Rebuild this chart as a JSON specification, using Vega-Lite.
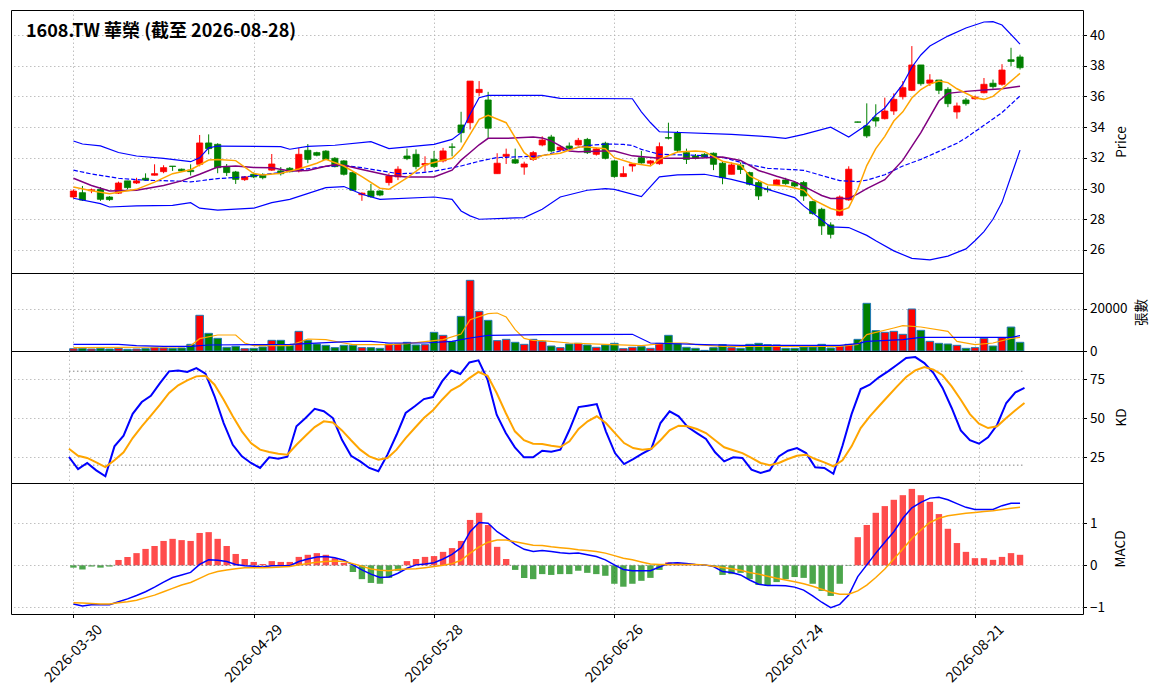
{
  "$schema": "https://vega.github.io/schema/vega-lite/v6.json",
  "padding": {"left": 10, "top": 9, "right": 0, "bottom": 0},
  "spacing": 0,
  "bounds": "flush",
  "config": {
    "font": "Noto Sans CJK TC",
    "view": {"stroke": "#000000", "strokeWidth": 1},
    "axis": {
      "gridColor": "#b0b0b0", "gridDash": [1.5, 2.5], "gridWidth": 0.8,
      "labelFontSize": 13.5, "labelColor": "#000000", "labelFont": "Noto Sans CJK TC", "labelOverlap": false,
      "tickColor": "#000000", "tickSize": 3.5, "labelPadding": 3, "domain": false,
      "titleFontSize": 13.5, "titleFontWeight": "normal", "titleColor": "#000000", "titleFont": "Noto Sans CJK TC"
    },
    "title": {"font": "Noto Sans CJK TC", "color": "#000000"}
  },
  "datasets": {
    "k": [
      {"i":0,"o":29.45,"h":29.95,"l":29.35,"c":29.84,"v":1100},
      {"i":1,"o":29.73,"h":30.17,"l":29.19,"c":29.25,"v":1270},
      {"i":2,"o":29.86,"h":30.0,"l":29.7,"c":29.92,"v":950},
      {"i":3,"o":29.95,"h":30.1,"l":29.2,"c":29.3,"v":1270},
      {"i":4,"o":29.45,"h":29.5,"l":29.2,"c":29.28,"v":950},
      {"i":5,"o":29.7,"h":30.45,"l":29.65,"c":30.36,"v":1270},
      {"i":6,"o":30.5,"h":30.5,"l":29.95,"c":30.06,"v":800},
      {"i":7,"o":30.36,"h":30.7,"l":30.3,"c":30.5,"v":950},
      {"i":8,"o":30.67,"h":30.99,"l":30.5,"c":30.55,"v":1100},
      {"i":9,"o":30.87,"h":31.58,"l":30.85,"c":30.97,"v":1590},
      {"i":10,"o":31.1,"h":31.52,"l":31.0,"c":31.36,"v":1430},
      {"i":11,"o":31.46,"h":31.47,"l":31.15,"c":31.44,"v":1270},
      {"i":12,"o":31.26,"h":31.3,"l":31.1,"c":31.15,"v":1430},
      {"i":13,"o":31.2,"h":31.58,"l":30.85,"c":31.1,"v":3170},
      {"i":14,"o":31.58,"h":33.49,"l":31.45,"c":32.97,"v":17000},
      {"i":15,"o":32.97,"h":33.53,"l":32.23,"c":32.6,"v":8400},
      {"i":16,"o":32.88,"h":32.95,"l":31.0,"c":31.36,"v":6030},
      {"i":17,"o":31.43,"h":31.6,"l":30.82,"c":31.04,"v":1750},
      {"i":18,"o":31.08,"h":31.15,"l":30.3,"c":30.6,"v":2220},
      {"i":19,"o":30.58,"h":30.8,"l":30.5,"c":30.76,"v":1100},
      {"i":20,"o":30.93,"h":31.05,"l":30.68,"c":30.76,"v":1270},
      {"i":21,"o":30.87,"h":31.0,"l":30.6,"c":30.71,"v":1900},
      {"i":22,"o":31.2,"h":32.25,"l":31.15,"c":31.6,"v":5080},
      {"i":23,"o":31.15,"h":31.4,"l":30.85,"c":30.97,"v":5080},
      {"i":24,"o":31.32,"h":31.4,"l":31.05,"c":31.1,"v":2540},
      {"i":25,"o":31.15,"h":32.65,"l":31.05,"c":32.23,"v":9360},
      {"i":26,"o":32.49,"h":32.9,"l":31.65,"c":31.9,"v":5080},
      {"i":27,"o":32.34,"h":32.4,"l":32.1,"c":32.17,"v":3330},
      {"i":28,"o":32.44,"h":32.5,"l":31.85,"c":31.9,"v":2700},
      {"i":29,"o":31.97,"h":32.05,"l":31.38,"c":31.43,"v":1590},
      {"i":30,"o":31.8,"h":31.85,"l":30.85,"c":30.93,"v":2700},
      {"i":31,"o":31.04,"h":31.1,"l":29.85,"c":29.89,"v":2700},
      {"i":32,"o":29.6,"h":29.75,"l":29.2,"c":29.7,"v":1590},
      {"i":33,"o":29.84,"h":30.3,"l":29.4,"c":29.47,"v":1590},
      {"i":34,"o":29.84,"h":29.9,"l":29.5,"c":29.58,"v":1270},
      {"i":35,"o":30.39,"h":31.0,"l":30.2,"c":30.82,"v":3330},
      {"i":36,"o":30.76,"h":31.45,"l":30.55,"c":31.26,"v":3330},
      {"i":37,"o":32.12,"h":32.6,"l":31.85,"c":31.95,"v":4130},
      {"i":38,"o":32.23,"h":32.55,"l":31.25,"c":31.43,"v":2860},
      {"i":39,"o":31.54,"h":32.1,"l":31.1,"c":31.63,"v":3000},
      {"i":40,"o":31.91,"h":32.45,"l":31.35,"c":31.43,"v":8890},
      {"i":41,"o":31.8,"h":32.65,"l":31.7,"c":32.45,"v":7460},
      {"i":42,"o":32.71,"h":32.95,"l":32.1,"c":32.69,"v":4600},
      {"i":43,"o":34.14,"h":35.0,"l":33.0,"c":33.64,"v":16500},
      {"i":44,"o":34.29,"h":37.0,"l":33.85,"c":37.0,"v":33650},
      {"i":45,"o":36.25,"h":37.0,"l":36.03,"c":36.46,"v":18900},
      {"i":46,"o":35.77,"h":36.3,"l":33.3,"c":33.93,"v":14600},
      {"i":47,"o":30.97,"h":32.3,"l":30.97,"c":31.65,"v":4920},
      {"i":48,"o":32.1,"h":32.6,"l":31.6,"c":32.23,"v":5550},
      {"i":49,"o":31.88,"h":32.6,"l":31.6,"c":31.66,"v":4130},
      {"i":50,"o":31.4,"h":31.75,"l":30.9,"c":31.6,"v":3170},
      {"i":51,"o":31.9,"h":32.45,"l":31.8,"c":32.34,"v":5550},
      {"i":52,"o":32.84,"h":33.4,"l":32.75,"c":33.16,"v":4600},
      {"i":53,"o":33.36,"h":33.5,"l":32.35,"c":32.45,"v":2380},
      {"i":54,"o":32.51,"h":32.8,"l":32.45,"c":32.7,"v":1590},
      {"i":55,"o":32.77,"h":33.0,"l":32.5,"c":32.62,"v":3330},
      {"i":56,"o":32.84,"h":33.3,"l":32.8,"c":33.14,"v":3650},
      {"i":57,"o":33.2,"h":33.3,"l":32.25,"c":32.34,"v":2860},
      {"i":58,"o":32.23,"h":32.65,"l":32.15,"c":32.58,"v":1750},
      {"i":59,"o":32.95,"h":33.05,"l":31.9,"c":31.97,"v":2860},
      {"i":60,"o":31.8,"h":31.85,"l":30.7,"c":30.78,"v":3650},
      {"i":61,"o":30.78,"h":31.45,"l":30.75,"c":30.97,"v":1100},
      {"i":62,"o":31.47,"h":31.65,"l":31.1,"c":31.6,"v":1750},
      {"i":63,"o":32.01,"h":32.45,"l":31.62,"c":31.67,"v":2060},
      {"i":64,"o":31.65,"h":31.85,"l":31.5,"c":31.8,"v":1270},
      {"i":65,"o":31.62,"h":33.0,"l":31.55,"c":32.73,"v":3650},
      {"i":66,"o":33.32,"h":34.29,"l":33.2,"c":33.28,"v":7460},
      {"i":67,"o":33.62,"h":33.75,"l":32.35,"c":32.49,"v":3490},
      {"i":68,"o":32.34,"h":32.6,"l":31.6,"c":31.9,"v":1750},
      {"i":69,"o":32.12,"h":32.25,"l":31.9,"c":31.97,"v":1270},
      {"i":70,"o":32.23,"h":32.3,"l":32.0,"c":32.06,"v":300},
      {"i":71,"o":32.3,"h":32.35,"l":31.2,"c":31.58,"v":1590},
      {"i":72,"o":31.65,"h":31.8,"l":30.28,"c":30.71,"v":3000},
      {"i":73,"o":30.93,"h":31.7,"l":30.93,"c":31.54,"v":1590},
      {"i":74,"o":31.52,"h":31.7,"l":30.95,"c":31.24,"v":1270},
      {"i":75,"o":31.04,"h":31.1,"l":30.2,"c":30.28,"v":3170},
      {"i":76,"o":30.39,"h":30.5,"l":29.26,"c":29.52,"v":3650},
      {"i":77,"o":29.97,"h":30.15,"l":29.75,"c":29.93,"v":3000},
      {"i":78,"o":30.23,"h":30.6,"l":30.2,"c":30.56,"v":2860},
      {"i":79,"o":30.56,"h":30.7,"l":30.25,"c":30.32,"v":1270},
      {"i":80,"o":30.39,"h":30.45,"l":30.1,"c":30.17,"v":1270},
      {"i":81,"o":30.39,"h":30.5,"l":29.2,"c":29.52,"v":1900},
      {"i":82,"o":29.15,"h":29.2,"l":28.3,"c":28.37,"v":1900},
      {"i":83,"o":28.65,"h":28.75,"l":26.98,"c":27.57,"v":3170},
      {"i":84,"o":27.63,"h":27.8,"l":26.75,"c":27.02,"v":1430},
      {"i":85,"o":28.26,"h":29.55,"l":28.2,"c":29.45,"v":2380},
      {"i":86,"o":29.26,"h":31.45,"l":29.2,"c":31.26,"v":3170},
      {"i":87,"o":34.34,"h":34.36,"l":34.3,"c":34.32,"v":5550},
      {"i":88,"o":34.08,"h":35.55,"l":33.3,"c":33.43,"v":22700},
      {"i":89,"o":34.62,"h":35.49,"l":34.03,"c":34.4,"v":9680},
      {"i":90,"o":34.55,"h":35.92,"l":34.5,"c":35.05,"v":8890},
      {"i":91,"o":35.05,"h":36.2,"l":34.8,"c":35.81,"v":9360},
      {"i":92,"o":35.98,"h":37.0,"l":35.8,"c":36.57,"v":7940},
      {"i":93,"o":36.4,"h":39.28,"l":36.35,"c":38.05,"v":20000},
      {"i":94,"o":38.05,"h":38.05,"l":36.7,"c":36.83,"v":9840},
      {"i":95,"o":36.86,"h":37.45,"l":36.68,"c":37.07,"v":4600},
      {"i":96,"o":37.07,"h":37.07,"l":36.15,"c":36.4,"v":3650},
      {"i":97,"o":36.46,"h":36.6,"l":35.3,"c":35.53,"v":3330},
      {"i":98,"o":34.99,"h":35.6,"l":34.55,"c":35.38,"v":2700},
      {"i":99,"o":35.77,"h":35.9,"l":35.4,"c":35.53,"v":1270},
      {"i":100,"o":35.85,"h":36.05,"l":35.8,"c":35.96,"v":1590},
      {"i":101,"o":36.24,"h":37.2,"l":36.2,"c":36.79,"v":6030},
      {"i":102,"o":36.86,"h":37.1,"l":36.5,"c":36.64,"v":2380},
      {"i":103,"o":36.79,"h":38.1,"l":36.7,"c":37.72,"v":6350},
      {"i":104,"o":38.39,"h":39.17,"l":37.98,"c":38.28,"v":11400},
      {"i":105,"o":38.57,"h":38.72,"l":37.75,"c":37.87,"v":4130}
    ],
    "ind": [
      {"i":0,"k":25.2,"d":30.5,"dif":-0.92,"dea":-0.89,"h":-0.056},
      {"i":1,"k":17.5,"d":26,"dif":-0.97,"dea":-0.9,"h":-0.1},
      {"i":2,"k":21.4,"d":24.6,"dif":-0.94,"dea":-0.91,"h":-0.03},
      {"i":3,"k":16.7,"d":21.8,"dif":-0.94,"dea":-0.92,"h":-0.056},
      {"i":4,"k":12.9,"d":18.8,"dif":-0.94,"dea":-0.92,"h":-0.03},
      {"i":5,"k":32,"d":23.1,"dif":-0.87,"dea":-0.89,"h":0.127},
      {"i":6,"k":38.8,"d":28.2,"dif":-0.8,"dea":-0.87,"h":0.198},
      {"i":7,"k":52.8,"d":37.3,"dif":-0.72,"dea":-0.83,"h":0.29},
      {"i":8,"k":60.3,"d":44.8,"dif":-0.63,"dea":-0.77,"h":0.39},
      {"i":9,"k":64.3,"d":51.6,"dif":-0.52,"dea":-0.71,"h":0.46},
      {"i":10,"k":72.4,"d":58.6,"dif":-0.4,"dea":-0.63,"h":0.58},
      {"i":11,"k":79.9,"d":66.1,"dif":-0.29,"dea":-0.55,"h":0.63},
      {"i":12,"k":80.5,"d":71,"dif":-0.23,"dea":-0.47,"h":0.6},
      {"i":13,"k":79.5,"d":74.2,"dif":-0.17,"dea":-0.41,"h":0.58},
      {"i":14,"k":82,"d":76.7,"dif":0.02,"dea":-0.31,"h":0.77},
      {"i":15,"k":78.4,"d":77.1,"dif":0.13,"dea":-0.21,"h":0.79},
      {"i":16,"k":64,"d":71.4,"dif":0.12,"dea":-0.15,"h":0.63},
      {"i":17,"k":46.9,"d":61.8,"dif":0.09,"dea":-0.11,"h":0.46},
      {"i":18,"k":33,"d":51.2,"dif":0.02,"dea":-0.08,"h":0.27},
      {"i":19,"k":25.6,"d":41.6,"dif":-0.01,"dea":-0.06,"h":0.15},
      {"i":20,"k":21.4,"d":34.1,"dif":-0.02,"dea":-0.056,"h":0.08},
      {"i":21,"k":18.2,"d":29.9,"dif":-0.04,"dea":-0.056,"h":0.03},
      {"i":22,"k":25,"d":28.4,"dif":-0.01,"dea":-0.05,"h":0.1},
      {"i":23,"k":24.1,"d":27.3,"dif":-0.01,"dea":-0.04,"h":0.08},
      {"i":24,"k":25.4,"d":26.7,"dif":-0.01,"dea":-0.03,"h":0.08},
      {"i":25,"k":44.8,"d":33,"dif":0.09,"dea":0.01,"h":0.2},
      {"i":26,"k":50.1,"d":38.8,"dif":0.15,"dea":0.04,"h":0.25},
      {"i":27,"k":56,"d":44.3,"dif":0.2,"dea":0.07,"h":0.29},
      {"i":28,"k":54.4,"d":48,"dif":0.21,"dea":0.09,"h":0.25},
      {"i":29,"k":50.1,"d":47.3,"dif":0.18,"dea":0.1,"h":0.17},
      {"i":30,"k":36.2,"d":42.2,"dif":0.12,"dea":0.09,"h":0.056},
      {"i":31,"k":26,"d":35.9,"dif":0.01,"dea":0.04,"h":-0.16},
      {"i":32,"k":22.4,"d":29.9,"dif":-0.11,"dea":-0.02,"h":-0.33},
      {"i":33,"k":18.2,"d":25.6,"dif":-0.21,"dea":-0.09,"h":-0.42},
      {"i":34,"k":16.1,"d":23.5,"dif":-0.29,"dea":-0.12,"h":-0.44},
      {"i":35,"k":26.7,"d":24.6,"dif":-0.28,"dea":-0.13,"h":-0.3},
      {"i":36,"k":39.4,"d":29.9,"dif":-0.19,"dea":-0.1,"h":-0.13},
      {"i":37,"k":53.3,"d":37.3,"dif":-0.07,"dea":-0.09,"h":0.1},
      {"i":38,"k":57.6,"d":43.7,"dif":0.01,"dea":-0.08,"h":0.15},
      {"i":39,"k":62.2,"d":50.1,"dif":0.03,"dea":-0.056,"h":0.2},
      {"i":40,"k":63.5,"d":55,"dif":0.06,"dea":-0.03,"h":0.22},
      {"i":41,"k":73.5,"d":61.8,"dif":0.15,"dea":0,"h":0.32},
      {"i":42,"k":80.5,"d":67.8,"dif":0.26,"dea":0.04,"h":0.41},
      {"i":43,"k":78.2,"d":71,"dif":0.42,"dea":0.12,"h":0.58},
      {"i":44,"k":85.6,"d":75.6,"dif":0.8,"dea":0.29,"h":1.08},
      {"i":45,"k":86.9,"d":79.5,"dif":1.02,"dea":0.44,"h":1.25},
      {"i":46,"k":74.6,"d":77.1,"dif":1.0,"dea":0.55,"h":0.96},
      {"i":47,"k":52.2,"d":66.1,"dif":0.8,"dea":0.6,"h":0.44},
      {"i":48,"k":40.5,"d":53.3,"dif":0.66,"dea":0.6,"h":0.15},
      {"i":49,"k":31.4,"d":41.6,"dif":0.5,"dea":0.56,"h":-0.11},
      {"i":50,"k":25,"d":35.9,"dif":0.38,"dea":0.52,"h":-0.3},
      {"i":51,"k":25,"d":33.7,"dif":0.33,"dea":0.48,"h":-0.33},
      {"i":52,"k":29.2,"d":33.5,"dif":0.35,"dea":0.47,"h":-0.21},
      {"i":53,"k":28.6,"d":32.4,"dif":0.33,"dea":0.44,"h":-0.23},
      {"i":54,"k":29.9,"d":31.6,"dif":0.3,"dea":0.42,"h":-0.21},
      {"i":55,"k":42.6,"d":35.2,"dif":0.28,"dea":0.4,"h":-0.21},
      {"i":56,"k":57.1,"d":43.1,"dif":0.29,"dea":0.37,"h":-0.13},
      {"i":57,"k":58,"d":48,"dif":0.25,"dea":0.35,"h":-0.18},
      {"i":58,"k":59,"d":51.2,"dif":0.21,"dea":0.33,"h":-0.21},
      {"i":59,"k":41.6,"d":46.9,"dif":0.13,"dea":0.29,"h":-0.25},
      {"i":60,"k":27.7,"d":40.5,"dif":0.01,"dea":0.23,"h":-0.44},
      {"i":61,"k":20.7,"d":34.1,"dif":-0.1,"dea":0.17,"h":-0.51},
      {"i":62,"k":23.9,"d":30.9,"dif":-0.13,"dea":0.13,"h":-0.44},
      {"i":63,"k":27.3,"d":29.9,"dif":-0.13,"dea":0.08,"h":-0.37},
      {"i":64,"k":30.5,"d":30.5,"dif":-0.13,"dea":0.03,"h":-0.3},
      {"i":65,"k":46.9,"d":35.9,"dif":-0.04,"dea":0.02,"h":-0.11},
      {"i":66,"k":54.4,"d":42.2,"dif":0.05,"dea":0.02,"h":0.07},
      {"i":67,"k":51.2,"d":45.2,"dif":0.06,"dea":0.02,"h":0.06},
      {"i":68,"k":44.3,"d":44.8,"dif":0.04,"dea":0.02,"h":0.01},
      {"i":69,"k":40.5,"d":43.1,"dif":0.02,"dea":0.02,"h":0.01},
      {"i":70,"k":36.7,"d":40.5,"dif":0.01,"dea":0.01,"h":-0.01},
      {"i":71,"k":28.2,"d":35.9,"dif":-0.03,"dea":-0.02,"h":-0.02},
      {"i":72,"k":22.4,"d":31.4,"dif":-0.15,"dea":-0.05,"h":-0.23},
      {"i":73,"k":25,"d":29.5,"dif":-0.17,"dea":-0.08,"h":-0.21},
      {"i":74,"k":24.6,"d":27.7,"dif":-0.23,"dea":-0.12,"h":-0.18},
      {"i":75,"k":17.1,"d":24.6,"dif":-0.35,"dea":-0.17,"h":-0.33},
      {"i":76,"k":15,"d":21.4,"dif":-0.45,"dea":-0.21,"h":-0.47},
      {"i":77,"k":16.7,"d":19.9,"dif":-0.48,"dea":-0.26,"h":-0.49},
      {"i":78,"k":25.6,"d":21.4,"dif":-0.48,"dea":-0.31,"h":-0.4},
      {"i":79,"k":29.2,"d":23.9,"dif":-0.49,"dea":-0.35,"h":-0.33},
      {"i":80,"k":30.9,"d":26,"dif":-0.52,"dea":-0.39,"h":-0.28},
      {"i":81,"k":27.7,"d":26.7,"dif":-0.59,"dea":-0.44,"h":-0.3},
      {"i":82,"k":18.6,"d":23.9,"dif":-0.73,"dea":-0.5,"h":-0.44},
      {"i":83,"k":18.2,"d":21.8,"dif":-0.88,"dea":-0.57,"h":-0.61},
      {"i":84,"k":14.5,"d":19.3,"dif":-1.01,"dea":-0.64,"h":-0.73},
      {"i":85,"k":32.4,"d":23.1,"dif":-0.93,"dea":-0.69,"h":-0.44},
      {"i":86,"k":52.6,"d":32,"dif":-0.71,"dea":-0.69,"h":-0.01},
      {"i":87,"k":68.6,"d":43.7,"dif":-0.27,"dea":-0.61,"h":0.67},
      {"i":88,"k":71.4,"d":51.2,"dif":0.01,"dea":-0.47,"h":0.96},
      {"i":89,"k":76.1,"d":57.6,"dif":0.29,"dea":-0.29,"h":1.25},
      {"i":90,"k":79.9,"d":64,"dif":0.55,"dea":-0.09,"h":1.41},
      {"i":91,"k":84.1,"d":70.3,"dif":0.8,"dea":0.15,"h":1.56},
      {"i":92,"k":88.4,"d":76.3,"dif":1.12,"dea":0.39,"h":1.67},
      {"i":93,"k":89,"d":80.5,"dif":1.37,"dea":0.64,"h":1.82},
      {"i":94,"k":85.2,"d":82.7,"dif":1.5,"dea":0.84,"h":1.67},
      {"i":95,"k":78.8,"d":81,"dif":1.6,"dea":1.02,"h":1.51},
      {"i":96,"k":69.3,"d":77.4,"dif":1.62,"dea":1.12,"h":1.22},
      {"i":97,"k":56.5,"d":70.3,"dif":1.56,"dea":1.18,"h":0.87},
      {"i":98,"k":42.2,"d":61.8,"dif":1.47,"dea":1.21,"h":0.53},
      {"i":99,"k":35.9,"d":52.6,"dif":1.38,"dea":1.24,"h":0.32},
      {"i":100,"k":33.7,"d":46.5,"dif":1.33,"dea":1.26,"h":0.17},
      {"i":101,"k":37.8,"d":43.7,"dif":1.33,"dea":1.28,"h":0.17},
      {"i":102,"k":45.8,"d":44.8,"dif":1.33,"dea":1.3,"h":0.13},
      {"i":103,"k":59.7,"d":50.1,"dif":1.42,"dea":1.33,"h":0.2},
      {"i":104,"k":66.5,"d":55,"dif":1.48,"dea":1.36,"h":0.29},
      {"i":105,"k":69.3,"d":59.7,"dif":1.48,"dea":1.38,"h":0.25}
    ],
    "ma5": [
      {"i":0,"v":30.1},{"i":2,"v":29.86},{"i":4,"v":29.67},{"i":7,"v":29.95},{"i":9,"v":30.42},
      {"i":11,"v":30.97},{"i":13,"v":31.23},{"i":15,"v":31.86},{"i":16,"v":31.9},{"i":18,"v":31.82},
      {"i":20,"v":30.98},{"i":21,"v":30.89},{"i":23,"v":31.0},{"i":25,"v":31.28},{"i":27,"v":31.65},
      {"i":28,"v":31.9},{"i":30,"v":31.47},{"i":32,"v":30.78},{"i":34,"v":30.02},{"i":35,"v":29.95},
      {"i":37,"v":30.7},{"i":39,"v":31.55},{"i":41,"v":31.85},{"i":42,"v":31.97},{"i":43,"v":32.56},
      {"i":44,"v":33.53},{"i":45,"v":34.51},{"i":46,"v":34.77},{"i":48,"v":34.29},{"i":49,"v":33.31},
      {"i":50,"v":32.34},{"i":51,"v":31.9},{"i":52,"v":32.15},{"i":54,"v":32.3},{"i":56,"v":32.71},
      {"i":57,"v":32.7},{"i":59,"v":32.6},{"i":60,"v":32.01},{"i":62,"v":31.65},{"i":64,"v":31.47},
      {"i":65,"v":31.9},{"i":67,"v":32.38},{"i":69,"v":32.45},{"i":70,"v":32.4},{"i":72,"v":31.78},
      {"i":74,"v":31.54},{"i":75,"v":30.82},{"i":77,"v":30.25},{"i":79,"v":30.17},{"i":81,"v":29.9},
      {"i":82,"v":29.3},{"i":84,"v":28.7},{"i":85,"v":28.54},{"i":86,"v":28.76},{"i":87,"v":29.95},
      {"i":88,"v":31.5},{"i":89,"v":32.6},{"i":90,"v":33.4},{"i":91,"v":34.4},{"i":92,"v":35.0},
      {"i":93,"v":35.9},{"i":94,"v":36.45},{"i":95,"v":36.8},{"i":96,"v":37.0},{"i":97,"v":36.9},
      {"i":98,"v":36.5},{"i":100,"v":35.92},{"i":101,"v":35.81},{"i":102,"v":36.0},{"i":103,"v":36.5},
      {"i":104,"v":37.0},{"i":105,"v":37.5}
    ],
    "ma10": [
      {"i":0,"v":30.67},{"i":2,"v":30.2},{"i":4,"v":29.84},{"i":7,"v":29.89},{"i":10,"v":30.2},
      {"i":12,"v":30.5},{"i":14,"v":30.93},{"i":16,"v":31.4},{"i":18,"v":31.47},{"i":20,"v":31.37},
      {"i":22,"v":31.36},{"i":24,"v":31.15},{"i":26,"v":31.17},{"i":28,"v":31.45},{"i":29,"v":31.55},
      {"i":30,"v":31.52},{"i":32,"v":31.24},{"i":35,"v":30.85},{"i":37,"v":30.76},{"i":40,"v":30.76},
      {"i":42,"v":31.2},{"i":43,"v":31.85},{"i":44,"v":32.35},{"i":45,"v":32.85},{"i":46,"v":33.27},
      {"i":48,"v":33.27},{"i":51,"v":33.36},{"i":52,"v":33.3},{"i":53,"v":33.1},{"i":55,"v":32.45},
      {"i":56,"v":32.4},{"i":59,"v":32.45},{"i":60,"v":32.44},{"i":62,"v":32.13},{"i":65,"v":31.97},
      {"i":69,"v":31.97},{"i":72,"v":32.06},{"i":74,"v":31.83},{"i":76,"v":31.18},{"i":78,"v":30.8},
      {"i":80,"v":30.45},{"i":82,"v":29.85},{"i":83,"v":29.55},{"i":84,"v":29.35},{"i":86,"v":29.35},
      {"i":87,"v":29.65},{"i":88,"v":30.0},{"i":90,"v":30.58},{"i":92,"v":31.85},{"i":94,"v":33.64},
      {"i":96,"v":35.7},{"i":97,"v":36.2},{"i":99,"v":36.33},{"i":101,"v":36.42},{"i":103,"v":36.5},
      {"i":105,"v":36.66}
    ],
    "ma20": [
      {"i":0,"v":31.2},{"i":2,"v":30.95},{"i":5,"v":30.67},{"i":8,"v":30.54},{"i":11,"v":30.5},
      {"i":13,"v":30.43},{"i":16,"v":30.65},{"i":19,"v":30.76},{"i":22,"v":30.97},{"i":25,"v":31.2},
      {"i":28,"v":31.45},{"i":30,"v":31.5},{"i":32,"v":31.36},{"i":36,"v":30.97},{"i":38,"v":31.0},
      {"i":40,"v":31.13},{"i":43,"v":31.47},{"i":45,"v":31.78},{"i":47,"v":32.02},{"i":49,"v":32.06},
      {"i":52,"v":32.13},{"i":54,"v":32.45},{"i":57,"v":32.8},{"i":59,"v":32.9},{"i":61,"v":32.88},
      {"i":62,"v":32.8},{"i":63,"v":32.55},{"i":65,"v":32.23},{"i":69,"v":32.17},{"i":72,"v":32.03},
      {"i":75,"v":31.55},{"i":77,"v":31.32},{"i":81,"v":31.19},{"i":83,"v":30.85},{"i":85,"v":30.52},
      {"i":87,"v":30.45},{"i":88,"v":30.55},{"i":90,"v":30.9},{"i":92,"v":31.47},{"i":94,"v":31.9},
      {"i":96,"v":32.42},{"i":98,"v":32.95},{"i":99,"v":33.3},{"i":101,"v":34.12},{"i":103,"v":34.95},
      {"i":105,"v":36.03}
    ],
    "bbu": [
      {"i":0,"v":33.1},{"i":1,"v":32.9},{"i":3,"v":32.78},{"i":5,"v":32.35},{"i":7,"v":32.12},
      {"i":10,"v":31.97},{"i":13,"v":31.75},{"i":14,"v":32.0},{"i":15,"v":32.65},{"i":16,"v":32.77},
      {"i":23,"v":32.73},{"i":24,"v":32.56},{"i":26,"v":32.75},{"i":29,"v":32.82},{"i":33,"v":33.05},
      {"i":35,"v":32.6},{"i":40,"v":32.88},{"i":42,"v":33.2},{"i":43,"v":33.64},{"i":44,"v":34.84},
      {"i":45,"v":35.92},{"i":46,"v":36.07},{"i":52,"v":36.07},{"i":54,"v":35.88},{"i":62,"v":35.85},
      {"i":63,"v":35.0},{"i":64,"v":34.3},{"i":65,"v":33.7},{"i":73,"v":33.53},{"i":77,"v":33.38},
      {"i":79,"v":33.27},{"i":81,"v":33.53},{"i":84,"v":34.0},{"i":86,"v":33.36},{"i":88,"v":34.15},
      {"i":89,"v":34.8},{"i":90,"v":35.25},{"i":92,"v":36.8},{"i":93,"v":37.9},{"i":94,"v":38.7},
      {"i":95,"v":39.28},{"i":97,"v":39.93},{"i":99,"v":40.46},{"i":101,"v":40.85},{"i":102,"v":40.87},
      {"i":103,"v":40.65},{"i":105,"v":39.41}
    ],
    "bbl": [
      {"i":0,"v":29.37},{"i":3,"v":29.02},{"i":4,"v":28.8},{"i":7,"v":28.87},{"i":11,"v":28.91},
      {"i":13,"v":29.08},{"i":14,"v":28.72},{"i":16,"v":28.59},{"i":20,"v":28.72},{"i":22,"v":29.08},
      {"i":24,"v":29.3},{"i":28,"v":30.06},{"i":30,"v":30.13},{"i":32,"v":29.63},{"i":34,"v":29.3},
      {"i":40,"v":29.45},{"i":42,"v":29.3},{"i":43,"v":28.54},{"i":44,"v":28.22},{"i":45,"v":28.0},
      {"i":50,"v":28.11},{"i":52,"v":28.65},{"i":54,"v":29.45},{"i":57,"v":29.89},{"i":59,"v":30.0},
      {"i":60,"v":29.95},{"i":63,"v":29.47},{"i":65,"v":30.76},{"i":67,"v":30.89},{"i":70,"v":30.93},
      {"i":73,"v":30.6},{"i":75,"v":30.3},{"i":80,"v":29.41},{"i":81,"v":28.87},{"i":84,"v":27.5},
      {"i":86,"v":27.46},{"i":88,"v":26.95},{"i":89,"v":26.6},{"i":91,"v":25.94},{"i":93,"v":25.45},
      {"i":95,"v":25.35},{"i":97,"v":25.6},{"i":99,"v":26.07},{"i":100,"v":26.6},{"i":101,"v":27.2},
      {"i":102,"v":28.0},{"i":103,"v":29.1},{"i":104,"v":30.8},{"i":105,"v":32.5}
    ],
    "vma5": [
      {"i":0,"v":1590},{"i":12,"v":1900},{"i":13,"v":2540},{"i":14,"v":5870},{"i":16,"v":7620},
      {"i":18,"v":7620},{"i":19,"v":3800},{"i":20,"v":2540},{"i":24,"v":2540},{"i":26,"v":5710},
      {"i":28,"v":5400},{"i":30,"v":3800},{"i":31,"v":3000},{"i":35,"v":3000},{"i":37,"v":3490},
      {"i":39,"v":4440},{"i":41,"v":5400},{"i":43,"v":8090},{"i":44,"v":14900},{"i":46,"v":17800},
      {"i":47,"v":18100},{"i":48,"v":16200},{"i":49,"v":10150},{"i":50,"v":6000},{"i":51,"v":5000},
      {"i":52,"v":4900},{"i":55,"v":3800},{"i":59,"v":3170},{"i":63,"v":2540},{"i":66,"v":3800},
      {"i":68,"v":3800},{"i":69,"v":3000},{"i":72,"v":2220},{"i":85,"v":2220},{"i":87,"v":3170},
      {"i":88,"v":7780},{"i":91,"v":10950},{"i":92,"v":12060},{"i":94,"v":11430},{"i":97,"v":9360},
      {"i":98,"v":4600},{"i":100,"v":3000},{"i":102,"v":3800},{"i":104,"v":6030},{"i":105,"v":6500}
    ],
    "vma20": [
      {"i":0,"v":3170},{"i":5,"v":3170},{"i":7,"v":2540},{"i":10,"v":2220},{"i":13,"v":2220},
      {"i":15,"v":2860},{"i":24,"v":3170},{"i":31,"v":4600},{"i":33,"v":4600},{"i":35,"v":3800},
      {"i":39,"v":3800},{"i":42,"v":4600},{"i":44,"v":6190},{"i":46,"v":7460},{"i":52,"v":7800},
      {"i":62,"v":7940},{"i":64,"v":3800},{"i":70,"v":3000},{"i":74,"v":2700},{"i":85,"v":2700},
      {"i":87,"v":3490},{"i":88,"v":4600},{"i":92,"v":5400},{"i":94,"v":6500},{"i":104,"v":6500},
      {"i":105,"v":7300}
    ],
    "kdref": [
      {"i":0,"lv":20,"g":"lo"},{"i":105,"lv":20,"g":"lo"},
      {"i":0,"lv":80,"g":"hi"},{"i":105,"lv":80,"g":"hi"}
    ],
    "zero": [{"i":0,"lv":0},{"i":105,"lv":0}]
  },
  "vconcat": [
    {
      "width": 1072,
      "height": 263,
      "title": {"text": "1608.TW 華榮 (截至 2026-08-28)", "anchor": "start", "frame": "group", "fontSize": 18, "fontWeight": "bold", "dx": 15, "dy": 31, "offset": 0},
      "encoding": {
        "x": {"field": "i", "type": "quantitative", "scale": {"domain": [-6.37, 111.43], "nice": false, "zero": false},
              "axis": {"values": [0, 20, 40, 60, 80, 100], "grid": true, "labels": false, "ticks": false, "title": null}}
      },
      "layer": [
        {
          "data": {"name": "k"},
          "mark": {"type": "rule", "strokeWidth": 1},
          "encoding": {
            "y": {"field": "l", "type": "quantitative", "scale": {"domain": [24.5, 41.63], "nice": false, "zero": false},
                  "axis": {"orient": "right", "values": [26, 28, 30, 32, 34, 36, 38, 40], "labelOverlap": false, "labelSeparation": 0, "labelBound": false, "grid": true, "title": "Price", "titleAngle": 270, "titleBaseline": "top", "titlePadding": 10}},
            "y2": {"field": "h"},
            "color": {"condition": {"test": "datum.c >= datum.o", "value": "#ff0000"}, "value": "#008000"}
          }
        },
        {
          "data": {"name": "k"},
          "mark": {"type": "bar", "size": 6.2, "strokeWidth": 0.8},
          "encoding": {
            "y": {"field": "o", "type": "quantitative",
                  "axis": {"orient": "right", "values": [26, 28, 30, 32, 34, 36, 38, 40], "labelOverlap": false, "labelSeparation": 0, "labelBound": false, "grid": true, "title": "Price", "titleAngle": 270, "titleBaseline": "top", "titlePadding": 10}},
            "y2": {"field": "c"},
            "color": {"condition": {"test": "datum.c >= datum.o", "value": "#ff0000"}, "value": "#008000"},
            "stroke": {"condition": {"test": "datum.c >= datum.o", "value": "#ff0000"}, "value": "#008000"}
          }
        },
        {"data": {"name": "bbu"}, "mark": {"type": "line", "color": "#0000ff", "strokeWidth": 1.2}, "encoding": {"y": {"field": "v", "type": "quantitative", "axis": {"orient": "right", "values": [26, 28, 30, 32, 34, 36, 38, 40], "labelOverlap": false, "labelSeparation": 0, "labelBound": false, "grid": true, "title": "Price", "titleAngle": 270, "titleBaseline": "top", "titlePadding": 10}}}},
        {"data": {"name": "bbl"}, "mark": {"type": "line", "color": "#0000ff", "strokeWidth": 1.2}, "encoding": {"y": {"field": "v", "type": "quantitative", "axis": {"orient": "right", "values": [26, 28, 30, 32, 34, 36, 38, 40], "labelOverlap": false, "labelSeparation": 0, "labelBound": false, "grid": true, "title": "Price", "titleAngle": 270, "titleBaseline": "top", "titlePadding": 10}}}},
        {"data": {"name": "ma20"}, "mark": {"type": "line", "color": "#0000ff", "strokeWidth": 1.2, "strokeDash": [4.5, 2]}, "encoding": {"y": {"field": "v", "type": "quantitative", "axis": {"orient": "right", "values": [26, 28, 30, 32, 34, 36, 38, 40], "labelOverlap": false, "labelSeparation": 0, "labelBound": false, "grid": true, "title": "Price", "titleAngle": 270, "titleBaseline": "top", "titlePadding": 10}}}},
        {"data": {"name": "ma10"}, "mark": {"type": "line", "color": "#800080", "strokeWidth": 1.5}, "encoding": {"y": {"field": "v", "type": "quantitative", "axis": {"orient": "right", "values": [26, 28, 30, 32, 34, 36, 38, 40], "labelOverlap": false, "labelSeparation": 0, "labelBound": false, "grid": true, "title": "Price", "titleAngle": 270, "titleBaseline": "top", "titlePadding": 10}}}},
        {"data": {"name": "ma5"}, "mark": {"type": "line", "color": "#ffa500", "strokeWidth": 1.5}, "encoding": {"y": {"field": "v", "type": "quantitative", "axis": {"orient": "right", "values": [26, 28, 30, 32, 34, 36, 38, 40], "labelOverlap": false, "labelSeparation": 0, "labelBound": false, "grid": true, "title": "Price", "titleAngle": 270, "titleBaseline": "top", "titlePadding": 10}}}}
      ]
    },
    {
      "width": 1072,
      "height": 78,
      "encoding": {
        "x": {"field": "i", "type": "quantitative", "scale": {"domain": [-6.37, 111.43], "nice": false, "zero": false},
              "axis": {"values": [0, 20, 40, 60, 80, 100], "grid": true, "labels": false, "ticks": false, "title": null}}
      },
      "layer": [
        {
          "data": {"name": "k"},
          "mark": {"type": "bar", "size": 7.6, "stroke": "#1f77b4", "strokeWidth": 1},
          "encoding": {
            "y": {"field": "v", "type": "quantitative", "scale": {"domain": [0, 37140], "nice": false},
                  "axis": {"orient": "right", "values": [0, 20000], "format": "d", "labelOverlap": false, "grid": true, "title": "張數", "titleAngle": 270, "titleBaseline": "top", "titlePadding": 8}},
            "y2": {"datum": 0},
            "color": {"condition": {"test": "datum.c >= datum.o", "value": "#ff0000"}, "value": "#008000"}
          }
        },
        {"data": {"name": "vma5"}, "mark": {"type": "line", "color": "#ffa500", "strokeWidth": 1.2}, "encoding": {"y": {"field": "v", "type": "quantitative"}}},
        {"data": {"name": "vma20"}, "mark": {"type": "line", "color": "#0000ff", "strokeWidth": 1.2}, "encoding": {"y": {"field": "v", "type": "quantitative"}}}
      ]
    },
    {
      "width": 1072,
      "height": 132,
      "encoding": {
        "x": {"field": "i", "type": "quantitative", "scale": {"domain": [-6.37, 111.43], "nice": false, "zero": false},
              "axis": {"values": [0, 20, 40, 60, 80, 100], "grid": true, "labels": false, "ticks": false, "title": null}}
      },
      "layer": [
        {
          "data": {"name": "kdref"},
          "mark": {"type": "line", "color": "#808080", "strokeWidth": 1, "strokeDash": [1.5, 2.5]},
          "encoding": {
            "y": {"field": "lv", "type": "quantitative", "scale": {"domain": [8.6, 92.9], "nice": false, "zero": false},
                  "axis": {"orient": "right", "values": [25, 50, 75], "labelOverlap": false, "grid": true, "title": "KD", "titleAngle": 270, "titleBaseline": "top", "titlePadding": 10}},
            "detail": {"field": "g", "type": "nominal"}
          }
        },
        {"data": {"name": "ind"}, "mark": {"type": "line", "color": "#0000ff", "strokeWidth": 2}, "encoding": {"y": {"field": "k", "type": "quantitative"}}},
        {"data": {"name": "ind"}, "mark": {"type": "line", "color": "#ffa500", "strokeWidth": 2}, "encoding": {"y": {"field": "d", "type": "quantitative"}}}
      ]
    },
    {
      "width": 1072,
      "height": 131,
      "encoding": {
        "x": {"field": "i", "type": "quantitative", "scale": {"domain": [-6.37, 111.43], "nice": false, "zero": false},
              "axis": {"values": [0, 20, 40, 60, 80, 100], "grid": true, "labels": true, "ticks": true, "title": null,
                       "labelExpr": "['2026-03-30','2026-04-29','2026-05-28','2026-06-26','2026-07-24','2026-08-21'][round(datum.value / 20)]",
                       "labelAngle": -45, "labelAlign": "center", "labelBaseline": "middle", "labelPadding": 36, "labelFontSize": 14.5}}
      },
      "layer": [
        {
          "data": {"name": "ind"},
          "mark": {"type": "bar", "size": 6.4, "opacity": 0.7},
          "encoding": {
            "y": {"field": "h", "type": "quantitative", "scale": {"domain": [-1.16, 1.96], "nice": false, "zero": false},
                  "axis": {"orient": "right", "values": [-1, 0, 1], "labelOverlap": false, "grid": true, "title": "MACD", "titleAngle": 270, "titleBaseline": "top", "titlePadding": 9}},
            "y2": {"datum": 0},
            "color": {"condition": {"test": "datum.h >= 0", "value": "#ff0000"}, "value": "#008000"}
          }
        },
        {
          "data": {"name": "zero"},
          "mark": {"type": "line", "color": "#808080", "strokeWidth": 1, "strokeDash": [1.5, 2.5]},
          "encoding": {"y": {"field": "lv", "type": "quantitative"}}
        },
        {"data": {"name": "ind"}, "mark": {"type": "line", "color": "#0000ff", "strokeWidth": 1.5}, "encoding": {"y": {"field": "dif", "type": "quantitative"}}},
        {"data": {"name": "ind"}, "mark": {"type": "line", "color": "#ffa500", "strokeWidth": 1.5}, "encoding": {"y": {"field": "dea", "type": "quantitative"}}}
      ]
    }
  ]
}
